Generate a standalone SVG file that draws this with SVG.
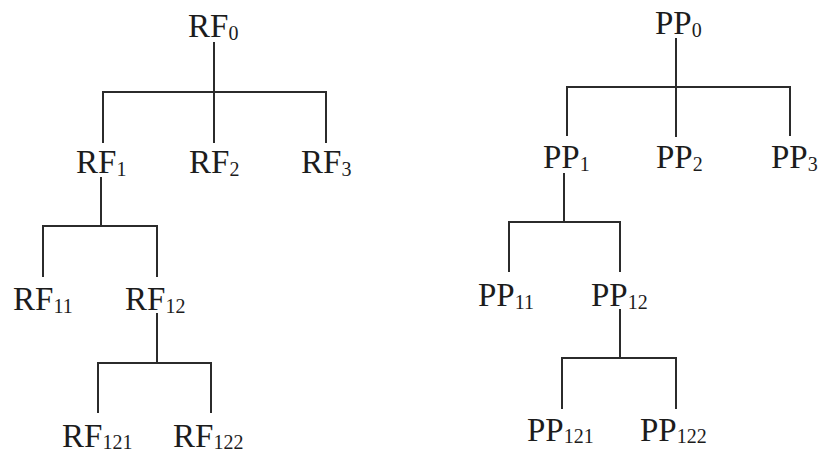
<svg xmlns="http://www.w3.org/2000/svg" width="821" height="455" viewBox="0 0 821 455">
  <style>
    .lbl { font-family: "Liberation Serif", "Times New Roman", serif; font-size: 33px; fill: #1c1c1c; }
    .sub { font-size: 20px; }
    .conn { fill: none; stroke: #2b2b2b; stroke-width: 2; stroke-linecap: butt; stroke-linejoin: miter; }
  </style>
  <rect width="821" height="455" fill="#ffffff"/>

  <!-- connectors -->
  <g id="connectors" class="conn">
    <!-- RF tree -->
    <path d="M214 42 V143 M103 143 V92 H326 V143"/>
    <path d="M101 177 V226 M43 277 V226 H157 V277"/>
    <path d="M157 313 V363 M98 413 V363 H211 V413"/>
    <!-- PP tree -->
    <path d="M676 38 V137 M567 136 V87 H790 V136"/>
    <path d="M564 173 V222 M509 272 V222 H620 V272"/>
    <path d="M620 309 V358 M562 409 V358 H676 V409"/>
  </g>

  <!-- RF tree nodes -->
  <g id="RF0"><text class="lbl" x="188" y="37">RF<tspan class="sub" dy="3">0</tspan></text></g>
  <g id="RF1"><text class="lbl" x="76" y="173">RF<tspan class="sub" dy="3">1</tspan></text></g>
  <g id="RF2"><text class="lbl" x="189" y="173">RF<tspan class="sub" dy="3">2</tspan></text></g>
  <g id="RF3"><text class="lbl" x="301" y="173">RF<tspan class="sub" dy="3">3</tspan></text></g>
  <g id="RF11"><text class="lbl" x="13" y="310">RF<tspan class="sub" dy="3">11</tspan></text></g>
  <g id="RF12"><text class="lbl" x="125" y="310">RF<tspan class="sub" dy="3">12</tspan></text></g>
  <g id="RF121"><text class="lbl" x="62" y="447">RF<tspan class="sub" dy="2">121</tspan></text></g>
  <g id="RF122"><text class="lbl" x="173" y="447">RF<tspan class="sub" dy="2">122</tspan></text></g>

  <!-- PP tree nodes -->
  <g id="PP0"><text class="lbl" x="655" y="34">PP<tspan class="sub" dy="3">0</tspan></text></g>
  <g id="PP1"><text class="lbl" x="543" y="168">PP<tspan class="sub" dy="3">1</tspan></text></g>
  <g id="PP2"><text class="lbl" x="656" y="168">PP<tspan class="sub" dy="3">2</tspan></text></g>
  <g id="PP3"><text class="lbl" x="771" y="168">PP<tspan class="sub" dy="3">3</tspan></text></g>
  <g id="PP11"><text class="lbl" x="478" y="306">PP<tspan class="sub" dy="3">11</tspan></text></g>
  <g id="PP12"><text class="lbl" x="591" y="306">PP<tspan class="sub" dy="3">12</tspan></text></g>
  <g id="PP121"><text class="lbl" x="527" y="441">PP<tspan class="sub" dy="2">121</tspan></text></g>
  <g id="PP122"><text class="lbl" x="640" y="441">PP<tspan class="sub" dy="2">122</tspan></text></g>
</svg>
